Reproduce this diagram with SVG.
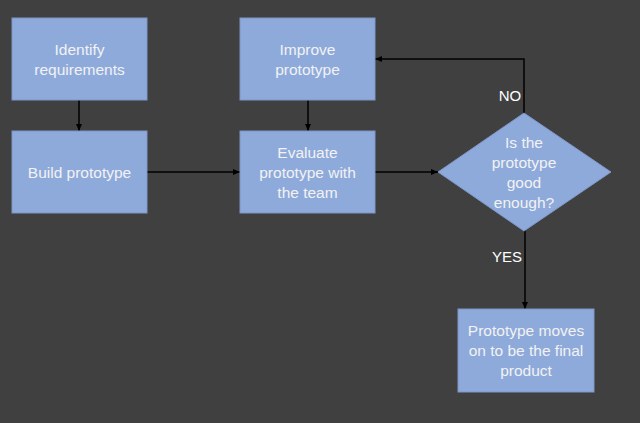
<svg xmlns="http://www.w3.org/2000/svg" width="640" height="423" viewBox="0 0 640 423">
<style>
.n{fill:#8eaadb;stroke:#7c96c6;stroke-width:1}
.t{font-family:"Liberation Sans",Arial,sans-serif;font-size:15.5px;fill:#f2f2f2;text-anchor:middle}
.l{font-family:"Liberation Sans",Arial,sans-serif;font-size:15px;fill:#ffffff;text-anchor:middle}
.c{stroke:#000;stroke-width:1.5;fill:none;marker-end:url(#a)}
</style>
<defs>
<marker id="a" markerWidth="8" markerHeight="8" refX="7" refY="4" orient="auto" markerUnits="userSpaceOnUse">
<path d="M0,1 L7,4 L0,7 Z" fill="#000"/>
</marker>
</defs>
<rect width="640" height="423" fill="#404040"/>
<g id="connectors">
<path class="c" d="M79,100 V131"/>
<path class="c" d="M308,100 V131"/>
<path class="c" d="M147,172 H240"/>
<path class="c" d="M375,172 H438"/>
<path class="c" d="M524,114 V59 H375"/>
<path class="c" d="M525,230 V309"/>
<text class="l" x="510" y="101">NO</text>
<text class="l" x="507" y="262">YES</text>
</g>
<g id="identify">
<rect class="n" x="12" y="18" width="135" height="82"/>
<text class="t" x="79.5" y="55">Identify</text>
<text class="t" x="79.5" y="75">requirements</text>
</g>
<g id="build">
<rect class="n" x="12" y="131" width="135" height="82"/>
<text class="t" x="79.5" y="178">Build prototype</text>
</g>
<g id="improve">
<rect class="n" x="240" y="18" width="135" height="82"/>
<text class="t" x="307.5" y="55">Improve</text>
<text class="t" x="307.5" y="75">prototype</text>
</g>
<g id="evaluate">
<rect class="n" x="240" y="131" width="135" height="82"/>
<text class="t" x="307.5" y="158">Evaluate</text>
<text class="t" x="307.5" y="178">prototype with</text>
<text class="t" x="307.5" y="198">the team</text>
</g>
<g id="decision">
<polygon class="n" points="524,113 611,172 524,231 438,172"/>
<text class="t" x="524" y="148">Is the</text>
<text class="t" x="524" y="168">prototype</text>
<text class="t" x="524" y="188">good</text>
<text class="t" x="524" y="208">enough?</text>
</g>
<g id="final">
<rect class="n" x="458" y="309" width="136" height="83"/>
<text class="t" x="526" y="336">Prototype moves</text>
<text class="t" x="526" y="356">on to be the final</text>
<text class="t" x="526" y="376">product</text>
</g>
</svg>
